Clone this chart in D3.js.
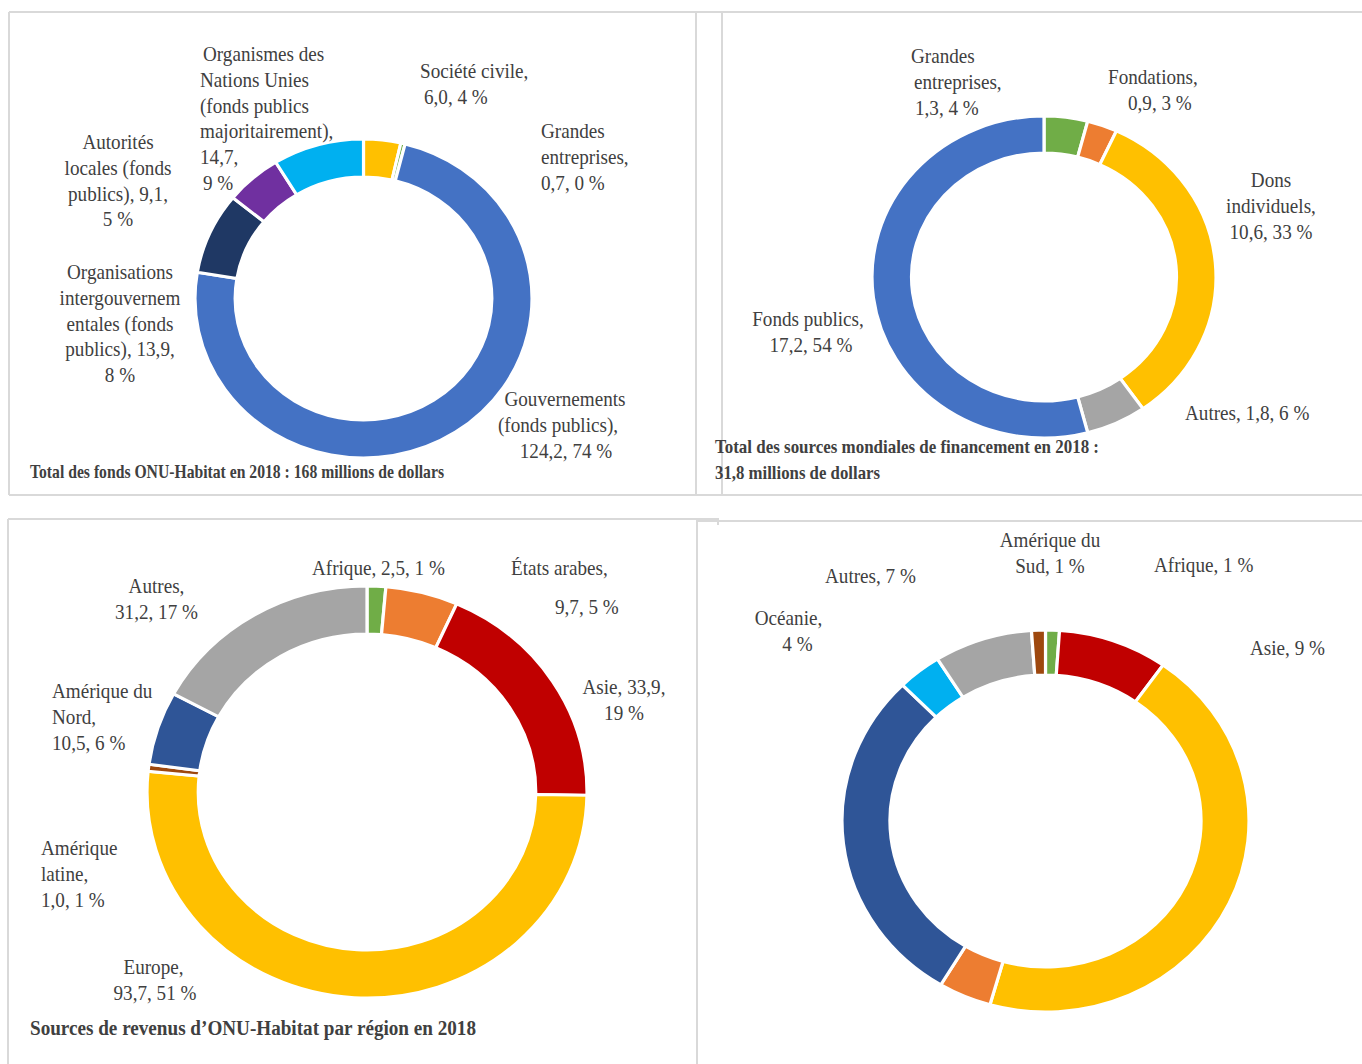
<!DOCTYPE html>
<html lang="fr">
<head>
<meta charset="UTF-8">
<title>ONU-Habitat 2018 - sources de financement</title>
<script src="https://d3js.org/d3.v7.min.js"></script>
<style>
  body { margin: 0; background: #fff; }
  svg { display: block; }
  .lbl { font-family: "Liberation Serif", "Times New Roman", serif; font-size: 22px; fill: #404040; }
  .ttl { font-family: "Liberation Serif", "Times New Roman", serif; font-size: 19px; font-weight: bold; fill: #404040; }
  .frame { stroke: #d9d9d9; stroke-width: 2; fill: none; }
</style>
</head>
<body>
<svg id="chart" width="1362" height="1064"></svg>
<script>
// ---- données ----
// 1. fonds ONU-Habitat 2018 (millions de dollars)
const fondsCats = ["Société civile", "Grandes entreprises", "Gouvernements", "Organisations intergouvernementales", "Autorités locales", "Organismes des Nations Unies"];
const fondsVals = [6.0, 0.7, 124.2, 13.9, 9.1, 14.7];
const fondsPct = [4, 0, 74, 8, 5, 9];
const fondsLines = [
  ["Société civile,", "{v}, {p} %"],
  ["Grandes", "entreprises,", "{v}, {p} %"],
  ["Gouvernements", "(fonds publics),", "{v}, {p} %"],
  ["Organisations", "intergouvernem", "entales (fonds", "publics), {v},", "{p} %"],
  ["Autorités", "locales (fonds", "publics), {v},", "{p} %"],
  ["Organismes des", "Nations Unies", "(fonds publics", "majoritairement),", "{v},", "{p} %"]
];

// 2. sources mondiales de financement 2018
const mondCats = ["Grandes entreprises", "Fondations", "Dons individuels", "Autres", "Fonds publics"];
const mondVals = [1.3, 0.9, 10.6, 1.8, 17.2];
const mondPct = [4, 3, 33, 6, 54];
const mondLines = [
  ["Grandes", "entreprises,", "{v}, {p} %"],
  ["Fondations,", "{v}, {p} %"],
  ["Dons", "individuels,", "{v}, {p} %"],
  ["Autres, {v}, {p} %"],
  ["Fonds publics,", "{v}, {p} %"]
];

// 3. revenus par région 2018
const regCats = ["Afrique", "États arabes", "Asie", "Europe", "Amérique latine", "Amérique du Nord", "Autres"];
const regVals = [2.5, 9.7, 33.9, 93.7, 1.0, 10.5, 31.2];
const regPct = [1, 5, 19, 51, 1, 6, 17];
const regLines = [
  ["Afrique, {v}, {p} %"],
  ["États arabes,", "{v}, {p} %"],
  ["Asie, {v},", "{p} %"],
  ["Europe,", "{v}, {p} %"],
  ["Amérique", "latine,", "{v}, {p} %"],
  ["Amérique du", "Nord,", "{v}, {p} %"],
  ["Autres,", "{v}, {p} %"]
];

// 4. répartition en pourcentage (sans titre)
const pctCats = ["Afrique", "Asie", "Europe", "États arabes", "Amérique du Nord", "Océanie", "Autres", "Amérique du Sud"];
const pctVals = [1.1, 8.7, 44.6, 4.2, 29.0, 3.5, 7.8, 1.1];
const pctShown = [1, 9, null, null, null, 4, 7, 1];
const pctLines = [
  ["Afrique, {p} %"],
  ["Asie, {p} %"],
  null,
  null,
  null,
  ["Océanie,", "{p} %"],
  ["Autres, {p} %"],
  ["Amérique du", "Sud, {p} %"]
];

// ---- couleurs ----
const fondsColors = ["#FFC000", "#70AD47", "#4472C4", "#1F3864", "#7030A0", "#00B0F0"];
const mondColors = ["#70AD47", "#ED7D31", "#FFC000", "#A5A5A5", "#4472C4"];
const regColors = ["#70AD47", "#ED7D31", "#C00000", "#FFC000", "#9E480E", "#2F5597", "#A5A5A5"];
const pctColors = ["#70AD47", "#C00000", "#FFC000", "#ED7D31", "#2F5597", "#00B0F0", "#A5A5A5", "#9E480E"];

const svg = d3.select("#chart");
const SX = 0.87;   // texte un peu condensé
const LH = 25.8;

// cadres
const frames = [
  [9, 12, 1362, 12], [9, 495, 1362, 495], [9, 12, 9, 495], [696, 12, 696, 495], [722, 12, 722, 495],
  [8, 519, 718, 519], [8, 519, 8, 1064], [697, 519, 697, 1064], [697, 521, 1362, 521], [718, 518, 718, 525]
];
svg.selectAll(".frame").data(frames).join("line")
  .attr("class", "frame")
  .attr("x1", d => d[0]).attr("y1", d => d[1])
  .attr("x2", d => d[2]).attr("y2", d => d[3]);

const num = v => d3.format(".1f")(v).replace(".", ",");

function drawDonut(vals, colors, geo) {
  const arcs = d3.pie().sort(null).value(d => d)(vals);
  const arc = d3.arc().innerRadius(geo.ry - geo.band).outerRadius(geo.ry);
  const g = svg.append("g")
    .attr("transform", `translate(${geo.cx},${geo.cy}) scale(${geo.rx / geo.ry},1)`);
  g.selectAll("path").data(arcs).join("path")
    .attr("d", arc)
    .attr("fill", (d, i) => colors[i])
    .attr("stroke", "#fff")
    .attr("stroke-width", 3);
}

function drawLabels(lines, vals, pcts, pos) {
  lines.forEach((ls, i) => {
    if (!ls) return;
    const p = pos[i];
    const t = svg.append("text")
      .attr("class", "lbl")
      .attr("text-anchor", p.anchor || "middle")
      .attr("transform", `translate(${p.x},${p.y}) scale(${SX},1)`);
    ls.forEach((s, j) => {
      const txt = s.replace("{v}", vals ? num(vals[i]) : "").replace("{p}", pcts[i]);
      t.append("tspan")
        .attr("x", ((p.dx && p.dx[j]) || 0) / SX)
        .attr("y", j * (p.lh || LH))
        .text(txt);
    });
  });
}

function drawTitle(str, x, y, w, size) {
  svg.append("text").attr("class", "ttl")
    .attr("x", x).attr("y", y)
    .style("font-size", size + "px")
    .attr("textLength", w).attr("lengthAdjust", "spacingAndGlyphs")
    .text(str);
}

// ---- panneau 1 ----
drawDonut(fondsVals, fondsColors, { cx: 363.5, cy: 298.5, rx: 168.5, ry: 159.5, band: 38 });
drawLabels(fondsLines, fondsVals, fondsPct, [
  { x: 420, y: 78, anchor: "start", dx: [0, 4] },
  { x: 541, y: 138, anchor: "start" },
  { x: 563, y: 406, dx: [2, -5, 3] },
  { x: 120, y: 279 },
  { x: 118, y: 149 },
  { x: 200, y: 61, anchor: "start", dx: [3, 0, 0, 0, 0, 3] }
]);
drawTitle("Total des fonds ONU-Habitat en 2018 : 168 millions de dollars", 30, 478, 414, 19);

// ---- panneau 2 ----
drawDonut(mondVals, mondColors, { cx: 1044, cy: 277, rx: 172, ry: 161, band: 37 });
drawLabels(mondLines, mondVals, mondPct, [
  { x: 911, y: 63, anchor: "start", dx: [0, 3, 4] },
  { x: 1108, y: 84, anchor: "start", dx: [0, 20] },
  { x: 1271, y: 187 },
  { x: 1185, y: 420, anchor: "start" },
  { x: 808, y: 326, dx: [0, 3] }
]);
drawTitle("Total des sources mondiales de financement en 2018 :", 715, 453, 384, 19);
drawTitle("31,8 millions de dollars", 715, 479, 165, 19);

// ---- panneau 3 ----
drawDonut(regVals, regColors, { cx: 367, cy: 792, rx: 220, ry: 206, band: 48 });
drawLabels(regLines, regVals, regPct, [
  { x: 312, y: 575, anchor: "start" },
  { x: 511, y: 575, anchor: "start", lh: 39, dx: [0, 44] },
  { x: 624, y: 694 },
  { x: 155, y: 974, dx: [-1.5, 0] },
  { x: 41, y: 855, anchor: "start" },
  { x: 52, y: 698, anchor: "start" },
  { x: 156.5, y: 593 }
]);
drawTitle("Sources de revenus d’ONU-Habitat par région en 2018", 30, 1035, 446, 20);

// ---- panneau 4 ----
drawDonut(pctVals, pctColors, { cx: 1045.5, cy: 821, rx: 203.5, ry: 191, band: 45 });
drawLabels(pctLines, null, pctShown, [
  { x: 1154, y: 572, anchor: "start" },
  { x: 1250, y: 655, anchor: "start" },
  null, null, null,
  { x: 790, y: 625, dx: [-1.5, 7.5] },
  { x: 825, y: 583, anchor: "start" },
  { x: 1050, y: 547 }
]);
</script>
</body>
</html>
